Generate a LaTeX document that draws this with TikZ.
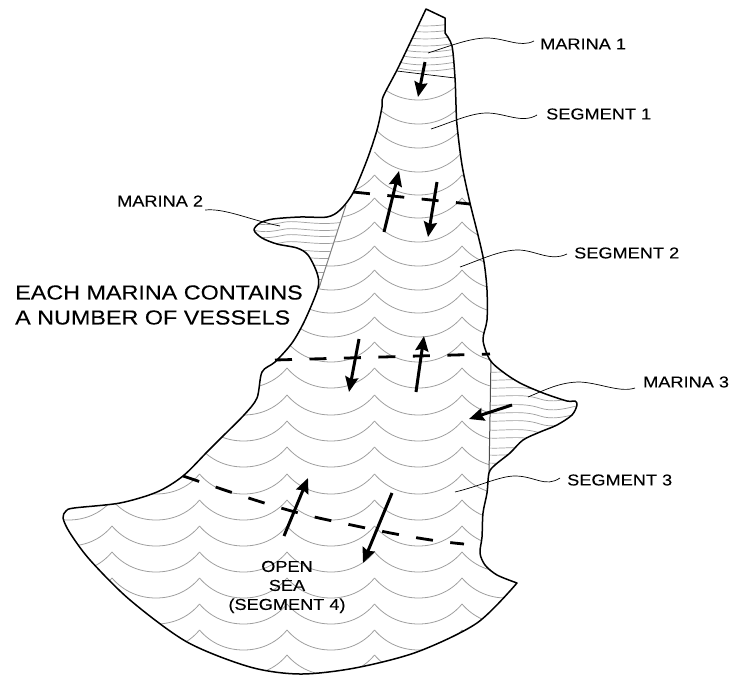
\documentclass[tikz,border=0pt]{standalone}
\usepackage{fontspec}
\usetikzlibrary{arrows.meta,positioning}
\newfontfamily\labelfont[FakeStretch=1.15,FakeBold=0.1]{Liberation Sans}
\newcommand{\seaoutline}{
    (426,9) -- (445,18) -- (445,33) --
    plot[smooth,tension=0.5] coordinates {(445,33) (452,46) (455,78) (456,105) (457,125) (462,165) (470,203) (478,235) (484,262) (487,290) (487,320) (483,340) (490,360) (503,372) (520,383) (543,393) (567,401) (575,401) (577,405) (572,415) (557,425) (540,432) (523,440) (510,453) (495,465) (489,473) (487,493) (483,513) (482,537) (480,553) (485,565) (497,575) (517,583)}
    -- plot[smooth,tension=0.5] coordinates {(517,583) (477,623) (417,652) (355,668) (300,674) (250,667) (187,642) (130,600) (90,560) (70,533) (63,518) (66,511) (74,508) (120,503) (157,492) (183,476) (207,452) (222,437) (244,415) (257,398) (262,372) (275,362) (292,343) (305,320) (318,288) (317,273) (308,255) (297,248) (277,244) (262,238) (254,230) (260,223) (273,219) (300,217) (327,217) (340,210) (353,193) (367,160) (377,130) (382,107) (383,97) (397,70) (410,43) (426,9)}
    -- cycle}
\tikzset{
    coast/.style={line width=1.5pt, line join=round},
    wave/.style={gray!75, line width=0.8pt},
    hatch/.style={gray!75, line width=0.7pt},
    boundary/.style={line width=2.8pt, dash pattern=on 17pt off 17.5pt},
    flow/.style={line width=3pt, -{Stealth[length=15pt,width=13pt,inset=2pt]}},
    leader/.style={line width=0.7pt},
    tag/.style={font=\labelfont\fontsize{15.8}{19}\selectfont, inner sep=0pt},
    pics/scallop/.style={code={
        \draw[wave] (0,0) .. controls (12,14) and (28,20) .. (44,20)
            .. controls (60,20) and (76,14) .. (87.5,0);
    }}
}
\begin{document}
\begin{tikzpicture}[x=1pt,y=-1pt]
    \useasboundingbox (0,0) rectangle (731,675);

    \begin{scope}
        \clip \seaoutline;
        % Sea
        \foreach \yy in {175,198,222,246,270,293,317,342,368,395,421,447,474,500,526,552,578,604,630,655}
            \foreach \xx in {24.5,112,199.5,287,374.5,462}
                \pic at (\xx,\yy) {scallop};
        \foreach \yy in {80,104,128,152}
            \pic at (374.5,\yy) {scallop};

        % Marina 1
        \fill[white] (380,0) rectangle (470,71) (380,71) -- (470,71) -- (470,80) -- (397,71);
        \foreach \yy in {27,33,40,47,53,59,66,72}
            \draw[hatch] (390,\yy-7) .. controls (405,\yy) and (435,\yy+1) .. (460,\yy-5);

        % Marina 2
        \fill[white] (240,205) -- (346,205) -- (319,288) -- (240,288) -- cycle;
        \begin{scope}
            \clip (240,205) -- (346,205) -- (319,288) -- (240,288) -- cycle;
            \foreach \yy in {222,229,235,242,250,257,264,271,278}
                \draw[hatch] (250,\yy) .. controls (262,\yy+4) and (270,\yy+3) .. (285,\yy)
                    .. controls (300,\yy-2) and (320,\yy+5) .. (350,\yy-1);
        \end{scope}

        % Marina 3
        \fill[white] (491,355) -- (590,355) -- (590,475) -- (489,475) -- cycle;
        \begin{scope}
            \clip (491,355) -- (590,355) -- (590,475) -- (489,475) -- cycle;
            \foreach \yy in {372,380,388,396,405,413,421,430,438,448,455,463}
                \draw[hatch] (488,\yy) .. controls (505,\yy+1) and (522,\yy-3) .. (540,\yy+3)
                    .. controls (552,\yy+7) and (565,\yy+4) .. (580,\yy);
        \end{scope}

        % Marina limits
        \draw[leader] (397,71) -- (455,78);
        \draw[gray, line width=1pt] (346,205) -- (319,288);
        \draw[black!70, line width=1pt] (491,358) -- (489,475);
    \end{scope}
    \draw[coast] \seaoutline;

    % Segment limits
    \draw[boundary] (353,192) -- (470,204);
    \draw[boundary] (275,360) -- (490,354);
    \draw[boundary] (183,476) .. controls (225,490) and (280,510) .. (328,520) .. controls (375,530) and (420,540) .. (464,544);

    % Arrows
    \coordinate (tailOne) at (425,62);     \coordinate (tipOne) at (418,97);
    \coordinate (tailTwo) at (384,232);    \coordinate (tipTwo) at (399,171);
    \coordinate (tailThree) at (437,182);  \coordinate (tipThree) at (428,237);
    \coordinate (tailFour) at (359,339);   \coordinate (tipFour) at (349,392);
    \coordinate (tailFive) at (416,392);   \coordinate (tipFive) at (424,336);
    \coordinate (tailSix) at (512,405);    \coordinate (tipSix) at (469,419);
    \coordinate (tailSeven) at (284,536);  \coordinate (tipSeven) at (308,478);
    \coordinate (tailEight) at (392,493);  \coordinate (tipEight) at (363,563);
    \foreach \nm in {One,Two,Three,Four,Five,Six,Seven,Eight}
        \draw[flow] (tail\nm) -- (tip\nm);

    % Labels
    \node[tag, anchor=west] (marinaOne) at (540,44) {MARINA 1};
    \node[tag, anchor=west] (segmentOne) at (546,114) {SEGMENT 1};
    \node[tag, anchor=west] (marinaTwo) at (117,201) {MARINA 2};
    \node[tag, anchor=west] (segmentTwo) at (574,253) {SEGMENT 2};
    \node[tag, anchor=west] (marinaThree) at (643,382) {MARINA 3};
    \node[tag, anchor=west] (segmentThree) at (567,480) {SEGMENT 3};
    \node[tag, align=center] (openSea) at (287,587) {OPEN\\SEA\\(SEGMENT 4)};
    \node[font=\labelfont\fontsize{20.3}{25}\selectfont, inner sep=0pt, align=left, anchor=west] (note) at (15,305) {EACH MARINA CONTAINS\\A NUMBER OF VESSELS};

    % Leaders
    \coordinate (endMarinaOne) at (428,53);
    \coordinate (endSegmentOne) at (431,129);
    \coordinate (endMarinaTwo) at (280,226);
    \coordinate (endSegmentTwo) at (460,267);
    \coordinate (endMarinaThree) at (528,397);
    \coordinate (endSegmentThree) at (455,492);
    \draw[leader] (marinaOne.west) ++(-6,-3) .. controls (520,48) and (505,38) .. (487,38) .. controls (470,38) and (450,46) .. (endMarinaOne);
    \draw[leader] (segmentOne.west) ++(-9,1) .. controls (522,124) and (505,113) .. (487,113) .. controls (470,113) and (450,123) .. (endSegmentOne);
    \draw[leader] (marinaTwo.east) ++(2,9) .. controls (225,208) and (250,220) .. (endMarinaTwo);
    \draw[leader] (segmentTwo.west) ++(-7,1) .. controls (550,262) and (535,250) .. (518,250) .. controls (500,250) and (480,260) .. (endSegmentTwo);
    \draw[leader] (marinaThree.west) ++(-8,6) .. controls (620,393) and (600,383) .. (580,382) .. controls (560,382) and (545,390) .. (endMarinaThree);
    \draw[leader] (segmentThree.west) ++(-7,-2) .. controls (545,488) and (535,476) .. (515,476) .. controls (500,476) and (480,486) .. (endSegmentThree);
\end{tikzpicture}
\end{document}
